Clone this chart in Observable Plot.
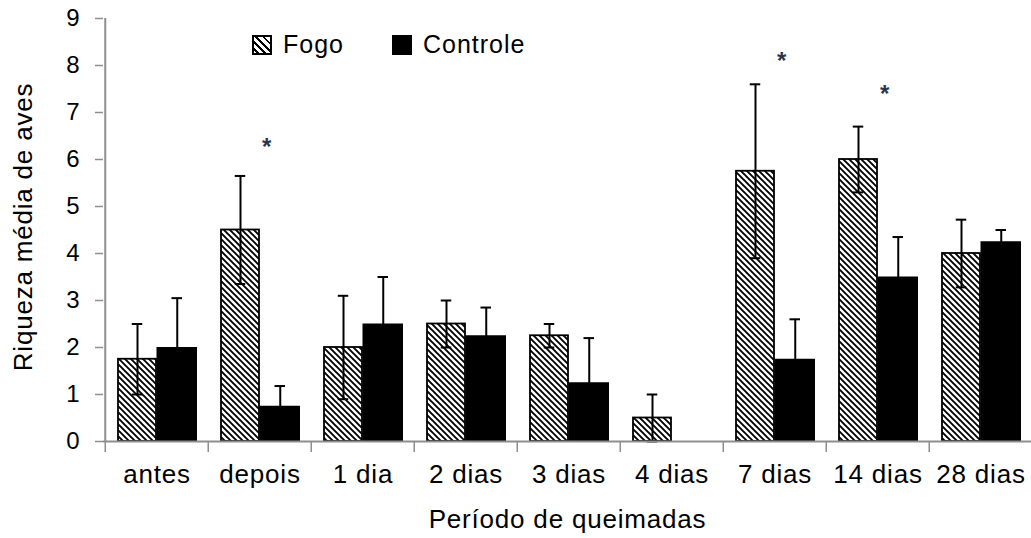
<!DOCTYPE html>
<html>
<head>
<meta charset="utf-8">
<script src="https://cdn.jsdelivr.net/npm/d3@7"></script>
<script src="https://cdn.jsdelivr.net/npm/@observablehq/plot@0.6"></script>
<style>
  html, body { margin: 0; padding: 0; background: #fff; }
  #wrap { position: relative; width: 1031px; height: 538px; font-family: "Liberation Sans", Arial, sans-serif; }
  #wrap svg text { letter-spacing: 0.8px; }
  .legend { position: absolute; top: 30px; left: 252px; display: flex; align-items: center; font-size: 25px; letter-spacing: 1px; color: #000; }
  .legend .item { display: flex; align-items: center; }
  .legend .sw { width: 20px; height: 20px; box-sizing: border-box; margin-right: 11px; }
  .legend .fogo { border: 2px solid #000; background: repeating-linear-gradient(45deg, #fff 0 2px, #000 2px 4px, #fff 4px 5px); }
  .legend .ctrl { background: #000; }
</style>
</head>
<body>
<div id="wrap"></div>
<script>
const categories = ["antes", "depois", "1 dia", "2 dias", "3 dias", "4 dias", "7 dias", "14 dias", "28 dias"];
const fogoMean = [1.75, 4.5, 2.0, 2.5, 2.25, 0.5, 5.75, 6.0, 4.0];
const fogoErr = [0.75, 1.15, 1.1, 0.5, 0.25, 0.5, 1.85, 0.7, 0.72];
const controleMean = [2.0, 0.75, 2.5, 2.25, 1.25, 0, 1.75, 3.5, 4.25];
const controleErr = [1.05, 0.43, 1.0, 0.6, 0.95, 0, 0.85, 0.85, 0.25];
const starCategories = ["depois", "7 dias", "14 dias"];
const starY = [6.37, 8.2, 7.5];
const yTicks = [0, 1, 2, 3, 4, 5, 6, 7, 8, 9];
const seriesNames = ["Fogo", "Controle"];
const yTitle = "Riqueza média de aves";
const xTitle = "Período de queimadas";

const fogo = categories.map((c, i) => ({cat: c, v: fogoMean[i], e: fogoErr[i]}));
const controle = categories.map((c, i) => ({cat: c, v: controleMean[i], e: controleErr[i]})).filter(d => d.v > 0);
const stars = starCategories.map((c, i) => ({cat: c, y: starY[i]}));

const x0 = 103, x1 = 1034.5;
const band = (x1 - x0) / categories.length;
const gray = "#8e8e8e";
// bar layout inside each band (px)
const fL = 13, fR = 51.5, cL = 51.5, cR = 92.5;
const fC = (fL + fR) / 2, cC = (cL + cR) / 2;
const cap = 5.5;

function errMarks(data, center) {
  const dx = center - band / 2;
  return [
    Plot.ruleX(data, {x: "cat", y1: d => d.v - d.e, y2: d => d.v + d.e, dx, stroke: "#000", strokeWidth: 2}),
    Plot.tickY(data, {x: "cat", y: d => d.v + d.e, insetLeft: center - cap, insetRight: band - center - cap, stroke: "#000", strokeWidth: 2}),
    Plot.tickY(data, {x: "cat", y: d => d.v - d.e, insetLeft: center - cap, insetRight: band - center - cap, stroke: "#000", strokeWidth: 2})
  ];
}

const chart = Plot.plot({
  width: 1031,
  height: 538,
  marginTop: 18,
  marginBottom: 97,
  marginLeft: 103,
  marginRight: 0,
  style: {fontFamily: "Liberation Sans, Arial, sans-serif", background: "#fff", color: "#000", overflow: "visible"},
  x: {domain: categories, range: [x0, x1], padding: 0},
  y: {domain: [0, 9]},
  marks: [
    Plot.barY(fogo, {x: "cat", y: "v", fill: "url(#hatch)", stroke: "#000", strokeWidth: 1.8, insetLeft: fL, insetRight: band - fR}),
    Plot.barY(controle, {x: "cat", y: "v", fill: "#000", insetLeft: cL, insetRight: band - cR}),
    ...errMarks(fogo, fC),
    ...errMarks(controle, cC),
    Plot.ruleY([0], {stroke: gray, strokeWidth: 2}),
    Plot.ruleX([categories[0]], {x: d => d, y1: 0, y2: 9, dx: -band / 2, stroke: gray, strokeWidth: 2}),
    Plot.axisY({ticks: yTicks, tickSize: 8, tickPadding: 15, fontSize: 24, stroke: gray, strokeWidth: 1.5, label: null, tickFormat: d => String(d)}),
    Plot.axisX({tickSize: 0, tickPadding: 23, fontSize: 26, label: null}),
    Plot.axisX({tickSize: 11, dx: -band / 2, stroke: gray, strokeWidth: 1.5, tickFormat: () => "", label: null}),
    Plot.text(stars, {x: "cat", y: "y", text: () => "*", dx: 7, dy: 5, fontSize: 24, fontWeight: "bold", fill: "#2b3550"}),
    Plot.text([xTitle], {frameAnchor: "bottom", text: d => d, dy: 86, fontSize: 26}),
    Plot.text([yTitle], {frameAnchor: "left", textAnchor: "middle", text: d => d, rotate: -90, dx: -80, dy: -3, fontSize: 26})
  ]
});

// hatch pattern
const defs = d3.select(chart).insert("defs", ":first-child");
const pat = defs.append("pattern").attr("id", "hatch").attr("patternUnits", "userSpaceOnUse").attr("width", 6).attr("height", 6);
pat.append("rect").attr("width", 6).attr("height", 6).attr("fill", "#fff");
pat.append("path").attr("d", "M-1,-1 L7,7 M-1,5 L1,7 M5,-1 L7,1").attr("stroke", "#000").attr("stroke-width", 1.9);

const wrap = document.getElementById("wrap");
wrap.appendChild(chart);

const legend = document.createElement("div");
legend.className = "legend";
seriesNames.forEach((name, i) => {
  const item = document.createElement("div");
  item.className = "item";
  if (i > 0) item.style.marginLeft = "48px";
  const sw = document.createElement("div");
  sw.className = "sw " + (i === 0 ? "fogo" : "ctrl");
  const t = document.createElement("span");
  t.textContent = name;
  item.appendChild(sw);
  item.appendChild(t);
  legend.appendChild(item);
});
wrap.appendChild(legend);
</script>
</body>
</html>
